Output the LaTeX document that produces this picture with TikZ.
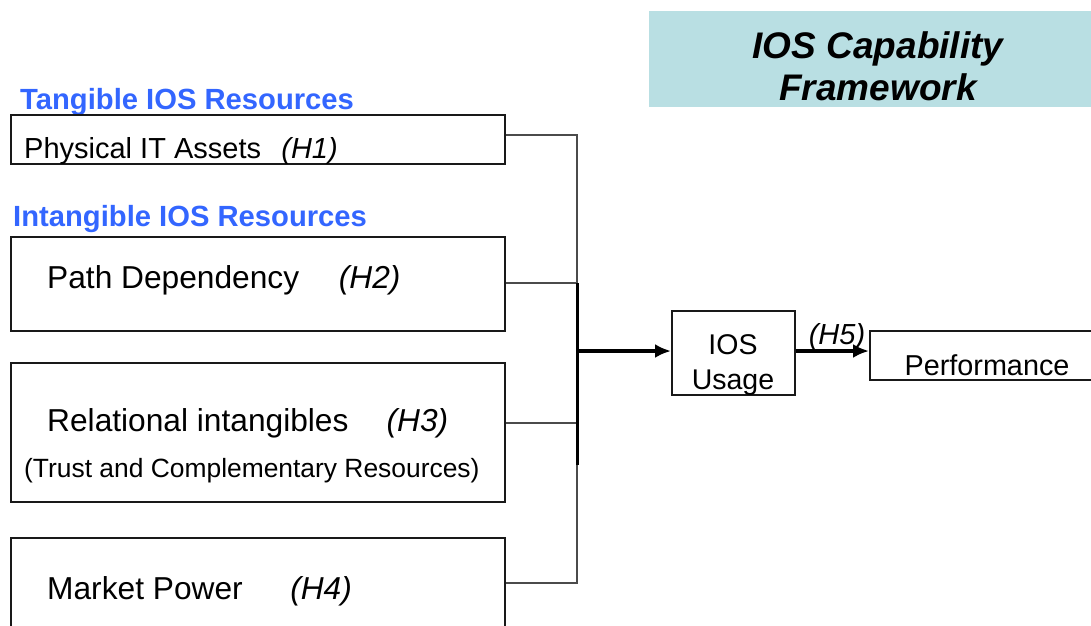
\documentclass[tikz,border=0pt]{standalone}
\usepackage{fontspec}
\setmainfont{Liberation Sans}
\usetikzlibrary{arrows.meta}
\definecolor{titlebg}{RGB}{185,223,227}
\definecolor{catblue}{RGB}{51,102,255}
\definecolor{boxline}{RGB}{25,25,25}
\definecolor{wire}{RGB}{75,75,75}
\tikzset{
  box/.style={draw=boxline, line width=1.5pt, rectangle, anchor=north west, inner sep=0pt},
  cat/.style={anchor=base west, inner sep=0pt, text=catblue, font=\fontsize{29.2}{34}\selectfont\bfseries},
  lbl/.style={anchor=base west, inner sep=0pt, font=\fontsize{31.7}{36}\selectfont},
  wireline/.style={draw=wire, line width=1.5pt},
  mainarrow/.style={draw=black, line width=3.4pt, -{Latex[length=16pt,width=14pt]}}
}
\begin{document}
\begin{tikzpicture}[x=1pt,y=-1pt]
\clip (0,0) rectangle (1091,625);
% title
\node[anchor=north west, fill=titlebg, minimum width=442pt, minimum height=96pt, inner sep=0pt] (title) at (649,11) {};
\node[anchor=base, inner sep=0pt, font=\fontsize{37}{42}\selectfont\bfseries\itshape] (t1) at (878,58) {IOS Capability};
\node[anchor=base, inner sep=0pt, font=\fontsize{37}{42}\selectfont\bfseries\itshape] (t2) at (878,100) {Framework};
% category labels
\node[cat] (tang) at (20,109) {Tangible IOS Resources};
\node[cat] (intang) at (13,226) {Intangible IOS Resources};
% boxes
\node[box, minimum width=494pt, minimum height=49pt] (b1) at (10,114) {};
\node[box, minimum width=494pt, minimum height=94pt] (b2) at (10,236) {};
\node[box, minimum width=494pt, minimum height=139pt] (b3) at (10,362) {};
\node[box, minimum width=494pt, minimum height=110pt] (b4) at (10,537) {};
\node[lbl, font=\fontsize{29}{33}\selectfont] (l1) at (24,158) {Physical IT Assets\hspace{0.7em}\textit{(H1)}};
\node[lbl] (l2) at (47,288) {Path Dependency\hspace{1.25em}\textit{(H2)}};
\node[lbl] (l3) at (47,431) {Relational intangibles\hspace{1.2em}\textit{(H3)}};
\node[lbl, font=\fontsize{26.4}{30}\selectfont] (l3b) at (24,477) {(Trust and Complementary Resources)};
\node[lbl] (l4) at (47,599) {Market Power\hspace{1.5em}\textit{(H4)}};
% usage and performance
\node[box, minimum width=123pt, minimum height=84pt] (usage) at (671,310) {};
\node[anchor=base, inner sep=0pt, font=\fontsize{28.5}{33}\selectfont] (u1) at (733,354) {IOS};
\node[anchor=base, inner sep=0pt, font=\fontsize{28.5}{33}\selectfont] (u2) at (733,389) {Usage};
\node[box, minimum width=230pt, minimum height=49pt] (perf) at (869,330) {};
\node[anchor=base, inner sep=0pt, font=\fontsize{28.8}{33}\selectfont] (p1) at (987,375) {Performance};
% connector coordinates
\coordinate (c1) at (577,135);
\coordinate (c2) at (577,283);
\coordinate (c3) at (577,423);
\coordinate (c4) at (577,583);
\coordinate (cm) at (577,351);
\coordinate (cthick) at (577,465);
\draw[wireline] (b1.east |- c1) -- (c1) -- (c4) -- (b4.east |- c4);
\draw[wireline] (b2.east |- c2) -- (c2);
\draw[wireline] (b3.east |- c3) -- (c3);
\draw[line width=3pt, black] (c2) -- (cthick);
\draw[mainarrow] (cm) -- (usage.west |- cm);
\draw[mainarrow] (usage.east |- cm) -- (perf.west |- cm);
\node[anchor=base, inner sep=0pt, font=\fontsize{29}{33}\selectfont\itshape] (h5) at (837,344) {(H5)};
\end{tikzpicture}
\end{document}
